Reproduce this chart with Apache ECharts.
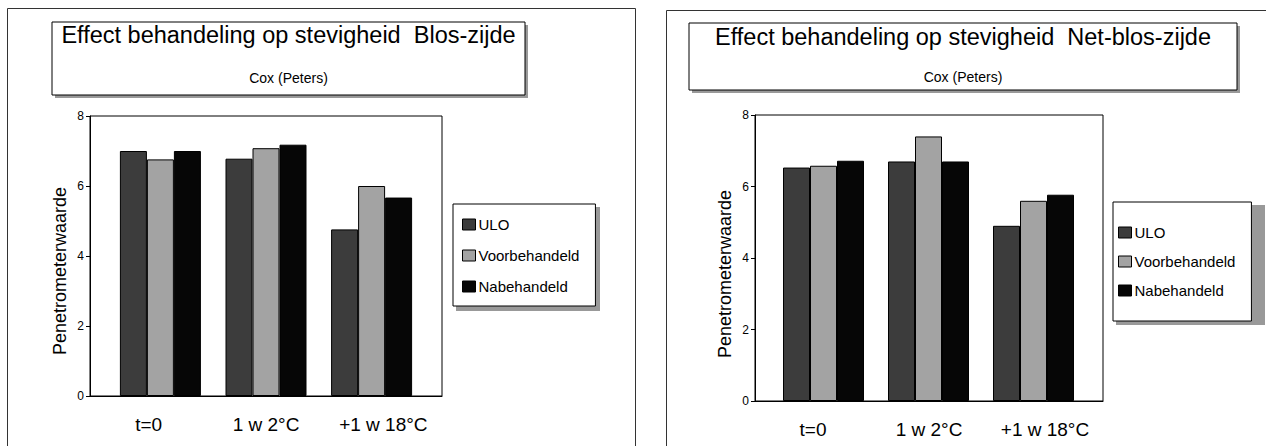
<!DOCTYPE html>
<html>
<head>
<meta charset="utf-8">
<script src="https://cdn.jsdelivr.net/npm/echarts@6/dist/echarts.min.js"></script>
<style>
html,body{margin:0;padding:0;background:#fff;}
#c{width:1266px;height:446px;}
</style>
</head>
<body>
<div id="c"></div>
<script>
// ---- data ----
const categories = ['t=0', '1 w 2°C', '+1 w 18°C'];
const seriesNames = ['ULO', 'Voorbehandeld', 'Nabehandeld'];
const blosULO = [7.0, 6.78, 4.76];
const blosVoor = [6.76, 7.08, 6.0];
const blosNabe = [7.0, 7.18, 5.67];
const nietULO = [6.53, 6.7, 4.9];
const nietVoor = [6.58, 7.4, 5.6];
const nietNabe = [6.72, 6.7, 5.77];
const yTicks = [0, 2, 4, 6, 8];
const titleLeft = 'Effect behandeling op stevigheid  Blos-zijde';
const titleRight = 'Effect behandeling op stevigheid  Net-blos-zijde';
const subTitle = 'Cox (Peters)';
const yName = 'Penetrometerwaarde';

// ---- style ----
const FONT = '"Liberation Sans", Arial, Helvetica, sans-serif';
const colors = ['#3c3c3c', '#a3a3a3', '#060606'];

const chart = echarts.init(document.getElementById('c'), null, {renderer: 'svg'});

function frameAxes(gi, namePad) {
  return {
    x: {
      type: 'category', gridIndex: gi, data: categories, boundaryGap: true,
      axisLine: {lineStyle: {color: '#000', width: 1}},
      axisTick: {show: false},
      axisLabel: {color: '#000', fontFamily: FONT, fontSize: 19, margin: 19}
    },
    y: {
      type: 'value', gridIndex: gi, min: yTicks[0], max: yTicks[yTicks.length - 1], interval: 2,
      name: yName, nameLocation: 'middle', nameGap: 21,
      nameTextStyle: {color: '#000', fontFamily: FONT, fontSize: 18, padding: [0, namePad, 0, 0]},
      axisLine: {show: true, lineStyle: {color: '#000', width: 1}},
      axisTick: {show: true, length: 4, lineStyle: {color: '#000'}},
      axisLabel: {color: '#000', fontFamily: FONT, fontSize: 12, margin: 6},
      splitLine: {show: false}
    }
  };
}
function barAxes(gi) {
  return {
    x: {type: 'category', gridIndex: gi, data: categories, show: false, boundaryGap: true},
    y: {type: 'value', gridIndex: gi, min: 0, max: 8, interval: 2, show: false, splitLine: {show: false}}
  };
}
const fL = frameAxes(0, 30), bL = barAxes(1), fR = frameAxes(2, 32), bR = barAxes(3);

function barSeries(name, data, idx, xi) {
  return {
    name: name, type: 'bar', xAxisIndex: xi, yAxisIndex: xi, data: data,
    barWidth: 27, barGap: '0%',
    itemStyle: {color: colors[idx], borderColor: '#000', borderWidth: 1},
    emphasis: {disabled: true}, animation: false
  };
}

function legendCfg(left, top, padding, gap) {
  return {
    data: seriesNames, orient: 'vertical', left: left, top: top,
    backgroundColor: '#fff', borderColor: '#000', borderWidth: 1,
    padding: padding, itemGap: gap, itemWidth: 13, itemHeight: 11,
    icon: 'rect', selectedMode: false,
    itemStyle: {borderColor: '#000', borderWidth: 1},
    textStyle: {color: '#000', fontFamily: FONT, fontSize: 15, lineHeight: 15, padding: [0, 0, 0, -2]}
  };
}

function titleGraphics(x1, y1, x2, y2, t, ty, sy) {
  const w = x2 - x1, h = y2 - y1, cx = (x1 + x2) / 2;
  return [
    {type: 'rect', shape: {x: x1 + 3, y: y1 + 3, width: w, height: h}, style: {fill: '#999'}, z: 1},
    {type: 'rect', shape: {x: x1, y: y1, width: w, height: h}, style: {fill: '#fff', stroke: '#000', lineWidth: 1}, z: 2},
    {type: 'text', x: cx, y: ty, style: {text: t, fill: '#000', font: '23.5px ' + FONT, textAlign: 'center', textVerticalAlign: 'middle'}, z: 3},
    {type: 'text', x: cx, y: sy, style: {text: subTitle, fill: '#000', font: '14px ' + FONT, textAlign: 'center', textVerticalAlign: 'middle'}, z: 3}
  ];
}

const option = {
  backgroundColor: '#fff',
  animation: false,
  graphic: {elements: [
    {type: 'rect', shape: {x: 7.5, y: 8.5, width: 628, height: 460}, style: {fill: 'none', stroke: '#333', lineWidth: 1}, z: 0},
    {type: 'rect', shape: {x: 666.5, y: 10.5, width: 640, height: 460}, style: {fill: 'none', stroke: '#333', lineWidth: 1}, z: 0},
    // legend shadows
    {type: 'rect', shape: {x: 456, y: 207, width: 144, height: 104}, style: {fill: '#999'}, z: 0},
    {type: 'rect', shape: {x: 1116, y: 205, width: 149, height: 120}, style: {fill: '#999'}, z: 0}
  ].concat(
    titleGraphics(52, 22, 525, 95, titleLeft, 35, 78),
    titleGraphics(689, 23, 1237, 90, titleRight, 37, 77)
  )},
  grid: [
    {left: 90, top: 116, width: 352, height: 280, show: true, borderColor: '#000', borderWidth: 1, backgroundColor: 'transparent'},
    {left: 107.6, top: 116, width: 316.8, height: 280},
    {left: 755, top: 115, width: 348, height: 286, show: true, borderColor: '#000', borderWidth: 1, backgroundColor: 'transparent'},
    {left: 771, top: 115, width: 315, height: 286}
  ],
  xAxis: [fL.x, bL.x, fR.x, bR.x],
  yAxis: [fL.y, bL.y, fR.y, bR.y],
  legend: [
    legendCfg(453, 204, [13, 16, 12, 9], 16),
    legendCfg(1113, 202, [23, 16, 23, 5], 14)
  ],
  series: [
    barSeries(seriesNames[0], blosULO, 0, 1),
    barSeries(seriesNames[1], blosVoor, 1, 1),
    barSeries(seriesNames[2], blosNabe, 2, 1),
    barSeries(seriesNames[0], nietULO, 0, 3),
    barSeries(seriesNames[1], nietVoor, 1, 3),
    barSeries(seriesNames[2], nietNabe, 2, 3)
  ]
};
chart.setOption(option);
</script>
</body>
</html>
